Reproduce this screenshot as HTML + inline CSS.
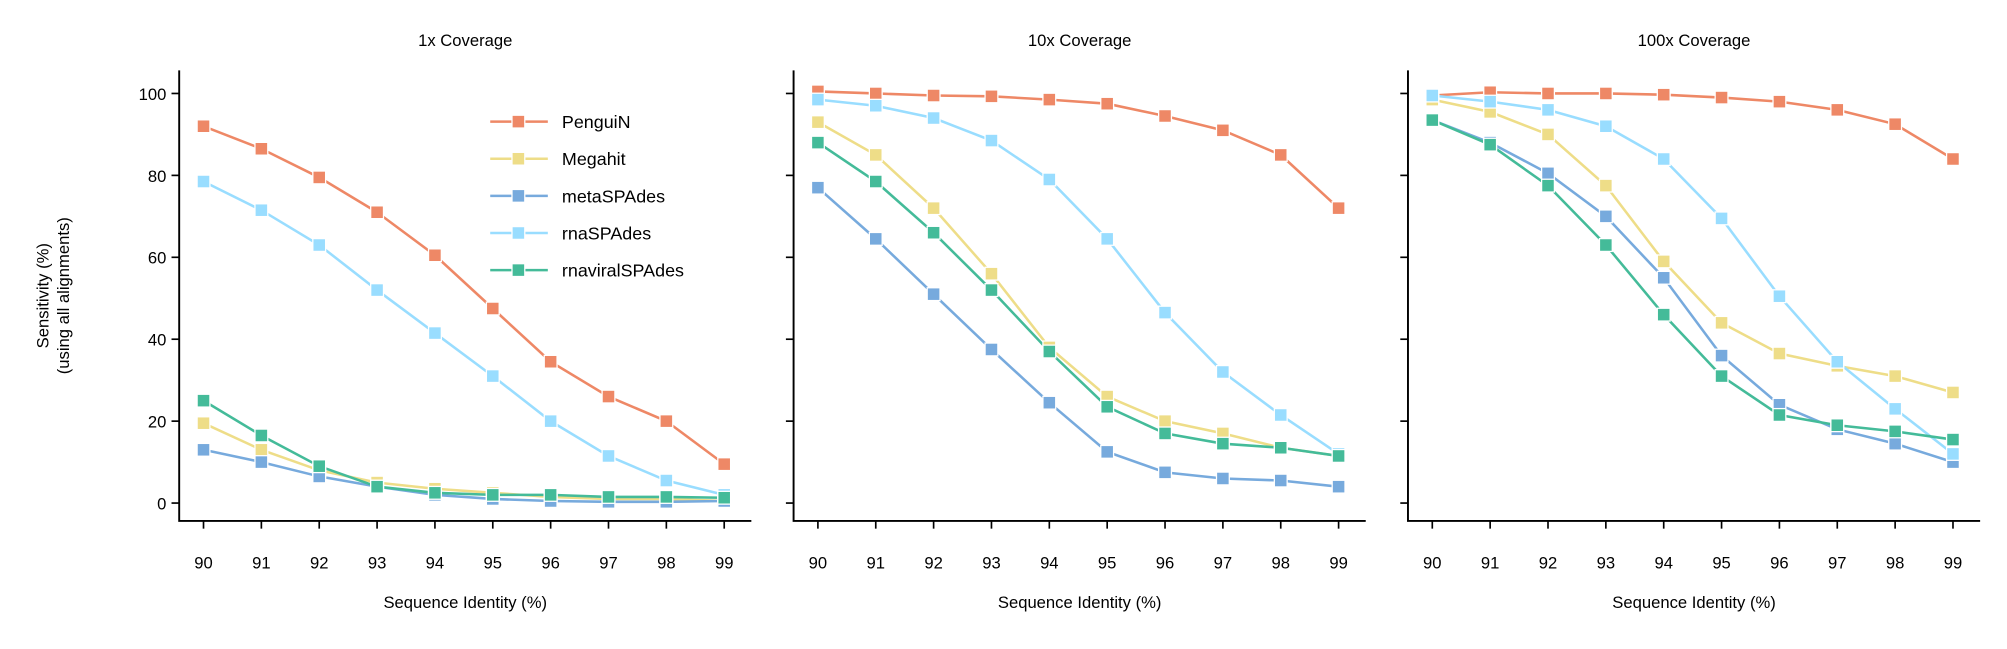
<!DOCTYPE html>
<html><head><meta charset="utf-8"><style>
body{margin:0;background:#fff;}
svg{display:block;}
svg text{font-family:"Liberation Sans","DejaVu Sans",sans-serif;fill:#000;}
</style></head><body>
<svg id="chart" width="2007" height="649" viewBox="0 0 1568 507" xmlns="http://www.w3.org/2000/svg"></svg>
<script>
const categories=[90,91,92,93,94,95,96,97,98,99];
const yTicks=[0,20,40,60,80,100];
const seriesNames=["PenguiN","Megahit","metaSPAdes","rnaSPAdes","rnaviralSPAdes"];
const panelTitles=["1x Coverage","10x Coverage","100x Coverage"];
const p1PenguiN=[92,86.5,79.5,71,60.5,47.5,34.5,26,20,9.5];
const p1Megahit=[19.5,13,8,5,3.5,2.5,1.5,1,1,0.5];
const p1Meta=[13,10,6.5,4,2,1,0.5,0.3,0.3,0.5];
const p1Rna=[78.5,71.5,63,52,41.5,31,20,11.5,5.5,2];
const p1Viral=[25,16.5,9,4,2.5,2,2,1.5,1.5,1.3];
const p2PenguiN=[100.5,100,99.5,99.3,98.5,97.5,94.5,91,85,72];
const p2Megahit=[93,85,72,56,38,26,20,17,13.5,11.5];
const p2Meta=[77,64.5,51,37.5,24.5,12.5,7.5,6,5.5,4];
const p2Rna=[98.5,97,94,88.5,79,64.5,46.5,32,21.5,12];
const p2Viral=[88,78.5,66,52,37,23.5,17,14.5,13.5,11.5];
const p3PenguiN=[99.5,100.3,100,100,99.7,99,98,96,92.5,84];
const p3Megahit=[98.5,95.5,90,77.5,59,44,36.5,33.5,31,27];
const p3Meta=[93.5,88,80.5,70,55,36,24,18,14.5,10];
const p3Rna=[99.5,98,96,92,84,69.5,50.5,34.5,23,12];
const p3Viral=[93.5,87.5,77.5,63,46,31,21.5,19,17.5,15.5];

const colors=["#EE8866","#EEDD88","#77AADD","#99DDFF","#44BB99"];
const panels=[[p1PenguiN,p1Megahit,p1Meta,p1Rna,p1Viral],[p2PenguiN,p2Megahit,p2Meta,p2Rna,p2Viral],[p3PenguiN,p3Megahit,p3Meta,p3Rna,p3Viral]];
const svg=document.getElementById('chart');
const NS="http://www.w3.org/2000/svg";
function mk(tag,attrs,parent){const e=document.createElementNS(NS,tag);for(const k in attrs)e.setAttribute(k,attrs[k]);(parent||svg).appendChild(e);return e;}
const axLeft=[140,620,1100], axW=447, axTop=55, axBottom=407;
const yScale=v=>393-v*3.2;
panels.forEach((series,pi)=>{
  const L=axLeft[pi];
  const xScale=c=>L+19+(c-90)*45.2;
  const g=mk('g',{});
  
  
  const t=mk('text',{x:L+axW/2,y:36,'font-size':13,'text-anchor':'middle'},g);t.textContent=panelTitles[pi];
  
  
  const sp=mk('path',{d:`M${L},${axTop}V${axBottom}H${L+axW}`,fill:'none',stroke:'#000','stroke-width':1.5},g);
  
  
  yTicks.forEach(v=>{
    mk('line',{x1:L-6,x2:L,y1:yScale(v),y2:yScale(v),stroke:'#000','stroke-width':1.3},g);
    if(pi===0){const tt=mk('text',{x:L-10,y:yScale(v)+5,'font-size':13,'text-anchor':'end'},g);tt.textContent=v;
      
      }
  });
  categories.forEach(c=>{
    mk('line',{x1:xScale(c),x2:xScale(c),y1:axBottom,y2:axBottom+6,stroke:'#000','stroke-width':1.3},g);
    const tt=mk('text',{x:xScale(c),y:axBottom+37,'font-size':13,'text-anchor':'middle'},g);tt.textContent=c;
    
    
  });
  const xt=mk('text',{x:L+axW/2,y:475,'font-size':13,'text-anchor':'middle'},g);xt.textContent='Sequence Identity (%)';
  
  
  series.forEach((vals,si)=>{
    const pts=vals.map((v,i)=>[xScale(categories[i]),yScale(v)]);
    const ln=mk('polyline',{points:pts.map(p=>p.join(',')).join(' '),fill:'none',stroke:colors[si],'stroke-width':2},g);
    
    
  });
  series.forEach((vals,si)=>{
    vals.forEach((v,i)=>{
      const r=mk('rect',{x:xScale(categories[i])-5,y:yScale(v)-5,width:10,height:10,fill:colors[si],stroke:'#fff','stroke-width':1},g);
      
      
    });
  });
});
const yl=mk('text',{transform:'translate(38,231) rotate(-90)','font-size':13,'text-anchor':'middle'});


const s1=mk('tspan',{x:0,dy:0},yl);s1.textContent='Sensitivity (%)';
const s2=mk('tspan',{x:0,dy:16},yl);s2.textContent='(using all alignments)';
const lg=mk('g',{});


seriesNames.forEach((n,i)=>{
  const yy=95+i*29;
  mk('line',{x1:383,x2:428,y1:yy,y2:yy,stroke:colors[i],'stroke-width':2},lg);
  mk('rect',{x:400,y:yy-5,width:10,height:10,fill:colors[i],stroke:'#fff','stroke-width':1},lg);
  const t=mk('text',{x:439,y:yy+5,'font-size':14},lg);t.textContent=n;
  
  
});
</script>
</body></html>
